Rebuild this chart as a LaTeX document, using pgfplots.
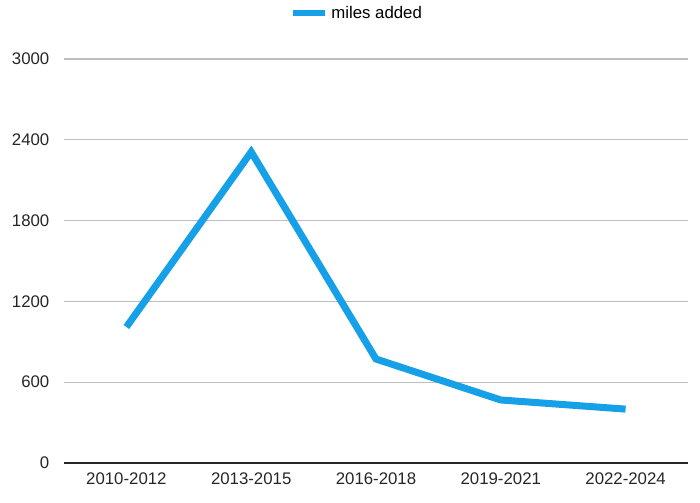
\documentclass[border=0pt]{standalone}
\usepackage{fontspec}
\setmainfont{Liberation Sans}
\usepackage{pgfplots}
\pgfplotsset{compat=1.18}
\definecolor{lineblue}{RGB}{22,160,232}
\definecolor{gridgray}{RGB}{190,190,190}
\begin{document}
\begin{tikzpicture}
\useasboundingbox (-48pt,-30pt) rectangle (477pt,347.25pt);
\begin{axis}[
  scale only axis,
  width=468pt, height=303pt,
  xmin=-0.5, xmax=4.5,
  ymin=0, ymax=3000,
  xtick={0,1,2,3,4},
  xticklabels={2010-2012,2013-2015,2016-2018,2019-2021,2022-2024},
  ytick={0,600,1200,1800,2400,3000},
  /pgf/number format/assume math mode=true,
  /pgf/number format/1000 sep={},
  ymajorgrids,
  grid style={gridgray, line width=0.8pt},
  axis line style={draw=none},
  major tick length=0pt,
  tick label style={font=\fontsize{12.6}{14}\selectfont, text=black!85},
  yticklabel style={xshift=-7.5pt},
  xticklabel style={yshift=-4pt},
  legend style={at={(0.47,1.114)}, anchor=center, draw=none, fill=none,
    font=\fontsize{12.6}{14}\selectfont, inner sep=0pt},
  legend cell align=left,
  legend image code/.code={\draw[line width=5pt, lineblue] (0pt,0pt) -- (24pt,0pt);},
  clip=false,
]
\addplot[lineblue, line width=5.25pt, line join=miter] coordinates {
  (0,1010) (1,2310) (2,772) (3,468) (4,400)
};
\addlegendentry{miles added}
\draw[black!85, line width=1.6pt] (rel axis cs:0,0) -- (rel axis cs:1,0);
\end{axis}
\end{tikzpicture}
\end{document}
